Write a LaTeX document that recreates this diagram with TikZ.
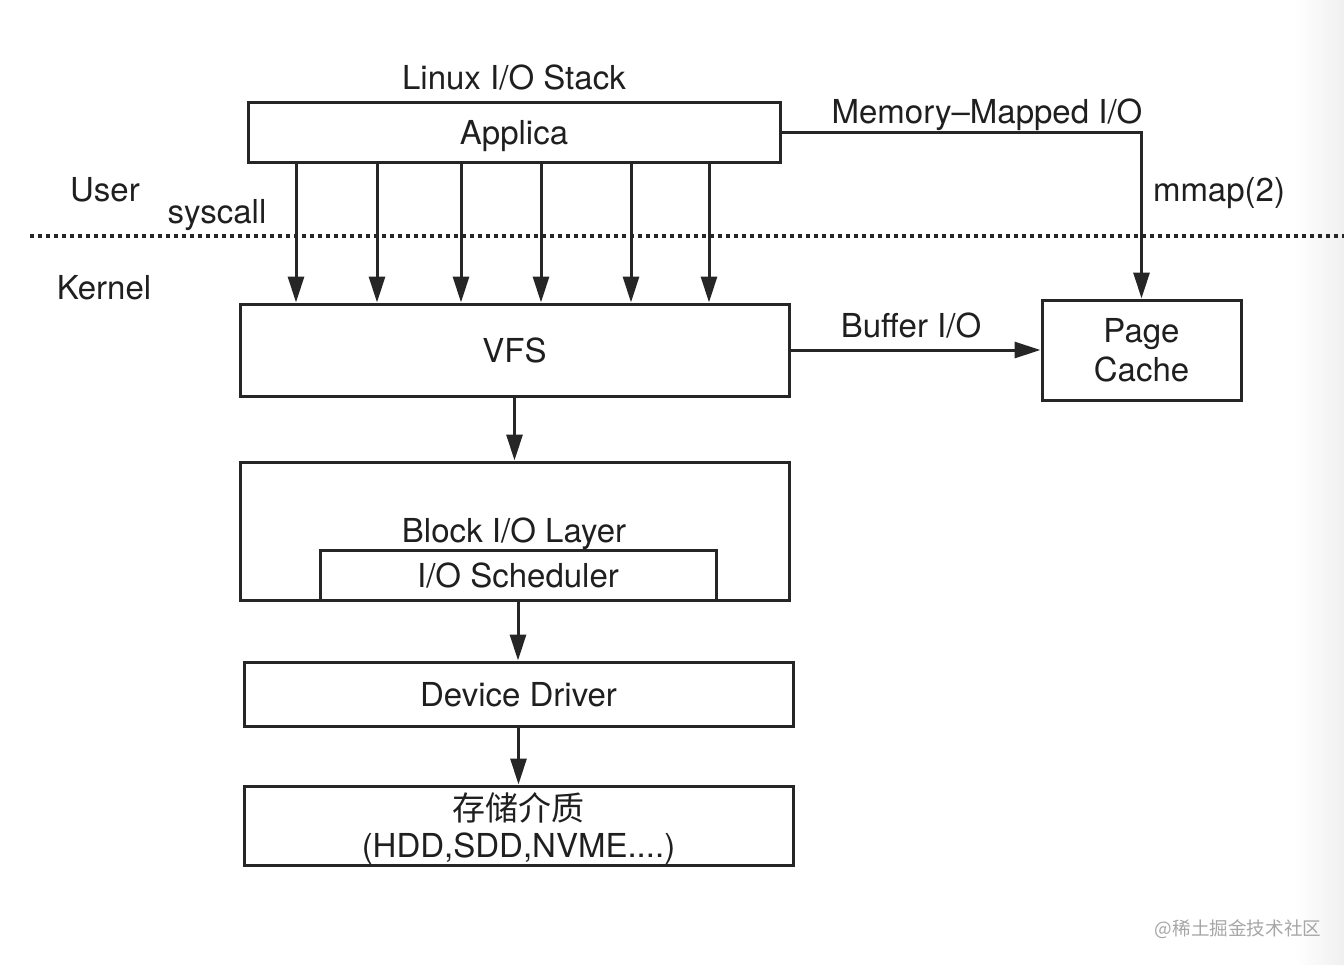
\documentclass[tikz,border=0pt]{standalone}
\usepackage{fontspec}
\setmainfont{TeX Gyre Heros}
\newfontfamily\cjk{Noto Sans CJK SC}
\usetikzlibrary{arrows.meta}

\begin{document}
\begin{tikzpicture}[x=0.5pt, y=-0.5pt, line width=1.5pt, draw=black!85, text=black!88,
			font=\fontsize{16.5}{19.5}\selectfont,
			box/.style={draw, rectangle, inner sep=0pt, align=center, text depth=0pt},
			lbl/.style={inner sep=0pt, text height=0.72em, text depth=0pt, yshift=-2pt},
			arr/.style={-{Triangle[length=13pt,width=8pt]}}]
			\useasboundingbox (0,0) rectangle (1344,964);
			\shade[left color=white, right color=black!6] (1295,0) rectangle (1344,964);
			% user / kernel border
			\draw[line width=2pt, dash pattern=on 2pt off 2pt] (30,236) -- (1344,236);
			\node[lbl] (title) at (514,78) {Linux I/O Stack};
			\node[lbl] (user) at (105,190) {User};
			\node[lbl] (syscall) at (217,212) {syscall};
			\node[lbl] (kernel) at (104,288) {Kernel};
			\node[box, minimum width=266pt, minimum height=30pt] (app) at (514,132) {Applica};
			\node[box, minimum width=274.5pt, minimum height=46pt] (vfs) at (514.5,350) {VFS};
			\node[box, minimum width=99.5pt, minimum height=50pt] (page) at (1141.5,350) {Page\\Cache};
			\node[box, minimum width=274.5pt, minimum height=69pt] (block) at (514.5,531) {};
			\node[lbl] (blocklbl) at (514,531) {Block I/O Layer};
			\node[box, minimum width=198pt, minimum height=25pt] (sched) at (518,575) {I/O Scheduler};
			\node[box, minimum width=274.5pt, minimum height=32pt] (driver) at (518.5,694) {Device Driver};
			\node[box, minimum width=274.5pt, minimum height=39.5pt] (media) at (518.5,825.5) {{\cjk 存储介质}\\[-1pt](HDD,SDD,NVME....)};
			% syscalls
			\foreach \x in {296,377,461,541,631,709}
				\draw[arr] (app.south -| \x,0) -- (vfs.north -| \x,0);
			\draw[arr] (app.east) -| (page.north);
			\node[lbl] (mmio) at (987,112) {Memory--Mapped I/O};
			\node[lbl] (mmap) at (1219,190) {mmap(2)};
			\draw[arr] (vfs.east) -- (page.west);
			\node[lbl] (buffer) at (911,326) {Buffer I/O};
			\draw[arr] (vfs.south) -- (block.north);
			\draw[arr] (sched.south) -- (sched.south |- driver.north);
			\draw[arr] (driver.south) -- (media.north);
			\node[inner sep=0pt, text=black!35, font=\cjk\fontsize{9.3}{11}\selectfont] (mark) at (1238,929) {@稀土掘金技术社区};
		\end{tikzpicture}
\end{document}
